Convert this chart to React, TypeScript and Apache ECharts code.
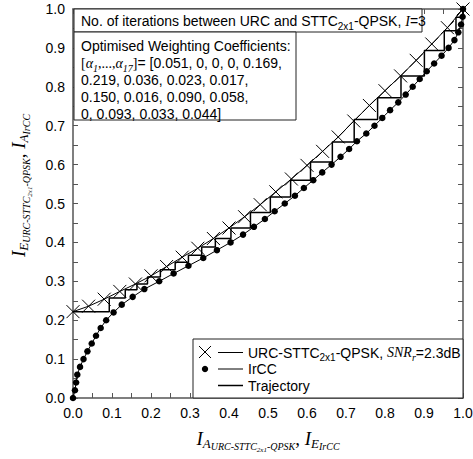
import React, { useEffect, useRef } from "react";
import * as echarts from "echarts";

// URC-STTC2x1-QPSK EXIT curve (x = I_A, y = I_E), SNR_r = 2.3 dB
const urcIA = [0.0, 0.04, 0.08, 0.12, 0.16, 0.2, 0.24, 0.28, 0.32, 0.36, 0.4, 0.44, 0.48, 0.52, 0.56, 0.6, 0.64, 0.68, 0.72, 0.76, 0.8, 0.84, 0.88, 0.92, 0.96, 1.0];
const urcIE = [0.222, 0.236, 0.254, 0.274, 0.293, 0.314, 0.338, 0.362, 0.385, 0.41, 0.437, 0.466, 0.497, 0.53, 0.563, 0.598, 0.634, 0.671, 0.712, 0.752, 0.79, 0.828, 0.868, 0.91, 0.952, 1.0];

// IrCC inverted EXIT curve (x = I_E, y = I_A)
const irccIA = [0.0, 0.02, 0.04, 0.06, 0.08, 0.1, 0.12, 0.14, 0.16, 0.18, 0.2, 0.22, 0.24, 0.26, 0.28, 0.3, 0.32, 0.34, 0.36, 0.38, 0.4, 0.42, 0.44, 0.46, 0.48, 0.5, 0.52, 0.54, 0.56, 0.58, 0.6, 0.62, 0.64, 0.66, 0.68, 0.7, 0.72, 0.74, 0.76, 0.78, 0.8, 0.82, 0.84, 0.86, 0.88, 0.9, 0.92, 0.94, 0.96, 0.98, 1.0];
const irccIE = [0.0, 0.005, 0.008, 0.011, 0.018, 0.027, 0.037, 0.048, 0.059, 0.071, 0.085, 0.104, 0.125, 0.153, 0.183, 0.221, 0.258, 0.296, 0.334, 0.369, 0.404, 0.436, 0.464, 0.492, 0.517, 0.543, 0.569, 0.592, 0.616, 0.639, 0.663, 0.686, 0.708, 0.728, 0.752, 0.773, 0.793, 0.813, 0.834, 0.853, 0.871, 0.889, 0.907, 0.926, 0.945, 0.963, 0.978, 0.988, 0.995, 0.999, 1.0];

// Decoding trajectory: x positions of the vertical steps and y levels of the horizontal steps
const trajVerticals = [0.093, 0.134, 0.164, 0.191, 0.224, 0.262, 0.296, 0.33, 0.365, 0.405, 0.455, 0.506, 0.558, 0.609, 0.665, 0.721, 0.781, 0.841, 0.901, 0.952, 0.982, 1.0];
const trajLevels = [0.222, 0.257, 0.278, 0.293, 0.311, 0.33, 0.349, 0.367, 0.388, 0.41, 0.437, 0.477, 0.517, 0.56, 0.607, 0.658, 0.716, 0.772, 0.828, 0.893, 0.944, 0.979, 1.0];

const alphaCoeffs = ["0.051", "0", "0", "0", "0.169", "0.219", "0.036", "0.023", "0.017", "0.150", "0.016", "0.090", "0.058", "0", "0.093", "0.033", "0.044"];

const SANS = "'Liberation Sans', Arial, sans-serif";
const SERIF = "'Liberation Serif', 'Times New Roman', serif";
const AXIS_COLOR = "#555";

const titleRich = {
  I: { fontFamily: SERIF, fontStyle: "italic", fontSize: 19, color: "#000", verticalAlign: "middle" },
  s1: { fontFamily: SERIF, fontStyle: "italic", fontSize: 13, color: "#000", padding: [9, 0, 0, 0], verticalAlign: "middle" },
  s2: { fontFamily: SERIF, fontStyle: "italic", fontSize: 10, color: "#000", padding: [16, 0, 0, 0], verticalAlign: "middle" },
  s3: { fontFamily: SERIF, fontStyle: "italic", fontSize: 7, color: "#000", padding: [22, 0, 0, 0], verticalAlign: "middle" },
  c: { fontFamily: SERIF, fontSize: 19, color: "#000", verticalAlign: "middle" },
};

const textRich = {
  n: { fontFamily: SANS, fontSize: 14, color: "#000", verticalAlign: "middle" },
  sub: { fontFamily: SANS, fontSize: 10, color: "#000", padding: [10, 0, 0, 0], verticalAlign: "middle" },
  it: { fontFamily: SERIF, fontStyle: "italic", fontSize: 14, color: "#000", verticalAlign: "middle" },
  isub: { fontFamily: SERIF, fontStyle: "italic", fontSize: 10, color: "#000", padding: [10, 0, 0, 0], verticalAlign: "middle" },
  t: { fontFamily: SERIF, fontSize: 14, color: "#000", verticalAlign: "middle" },
};

function axis(position: string, showLabel: boolean, extra: any = {}) {
  return {
    type: "value",
    position,
    min: 0,
    max: 1,
    interval: 0.1,
    axisLine: { show: true, onZero: false, lineStyle: { color: AXIS_COLOR, width: 1.5 } },
    axisTick: { show: true, inside: true, length: 5, lineStyle: { color: AXIS_COLOR, width: 1 } },
    minorTick: { show: true, splitNumber: 2, length: 5, lineStyle: { color: AXIS_COLOR, width: 1 } },
    splitLine: { show: false },
    axisLabel: {
      show: showLabel,
      formatter: (v: number) => v.toFixed(1),
      fontFamily: SANS,
      fontSize: 14,
      color: "#000",
      margin: 8,
    },
    ...extra,
  };
}

export default function App() {
  const ref = useRef<HTMLDivElement>(null);
  useEffect(() => {
    if (!ref.current) return;
    const chart = echarts.init(ref.current, undefined, { renderer: "svg" });

    const urcData = urcIA.map((x, i) => [x, urcIE[i]]);
    const irccData = irccIE.map((x, i) => [x, irccIA[i]]);
    const trajData: number[][] = [[0, trajLevels[0]]];
    trajVerticals.forEach((v, i) => {
      trajData.push([v, trajLevels[i]]);
      trajData.push([v, trajLevels[i + 1]]);
    });

    const line2 =
      "{t|[}{it|α}{isub|1}{t|,...,}{it|α}{isub|17}{t|]}{n|= [" + alphaCoeffs.slice(0, 5).join(", ") + ",}";
    const line3 = alphaCoeffs.slice(5, 9).join(", ") + ",";
    const line4 = alphaCoeffs.slice(9, 13).join(", ") + ",";
    const line5 = alphaCoeffs.slice(13).join(", ") + "]";

    const txt = (x: number, y: number, text: string, rich = false) => ({
      type: "text",
      x,
      y,
      z: 102,
      style: {
        text,
        fontFamily: SANS,
        fontSize: 14,
        fill: "#000",
        align: "left",
        verticalAlign: "middle",
        ...(rich ? { rich: textRich } : {}),
      },
    });

    const crossSym = "path://M0,0L10,10M10,0L0,10";

    const option: any = {
      animation: false,
      backgroundColor: "#fff",
      grid: { left: 73, right: 10, top: 9, bottom: 61, containLabel: false, outerBoundsMode: "none" },
      xAxis: [
        axis("bottom", true, {
          name: "{I|I}{s1|A}{s2|URC-STTC}{s3|2x1}{s2|-QPSK}{c|, }{I|I}{s1|E}{s2|IrCC}",
          nameLocation: "middle",
          nameGap: 26,
          nameTextStyle: { rich: titleRich },
        }),
        axis("top", false),
      ],
      yAxis: [
        axis("left", true, {
          name: "{I|I}{s1|E}{s2|URC-STTC}{s3|2x1}{s2|-QPSK}{c|, }{I|I}{s1|A}{s2|IrCC}",
          nameLocation: "middle",
          nameRotate: 90,
          nameGap: 40,
          nameTextStyle: { rich: titleRich, padding: [0, 0, 0, 36] },
        }),
        axis("right", false),
      ],
      series: [
        {
          name: "IrCC",
          type: "line",
          data: irccData,
          symbol: "circle",
          symbolSize: 6.5,
          lineStyle: { color: "#000", width: 1 },
          itemStyle: { color: "#000", borderWidth: 0 },
          z: 2,
        },
        {
          name: "URC",
          type: "line",
          data: urcData,
          symbol: crossSym,
          symbolSize: 13,
          lineStyle: { color: "#000", width: 1 },
          itemStyle: { color: "#000", borderColor: "#000", borderWidth: 1 },
          z: 3,
        },
        {
          name: "Trajectory",
          type: "line",
          data: trajData,
          symbol: "none",
          lineStyle: { color: "#000", width: 1.5 },
          z: 4,
        },
      ],
      graphic: [
        { type: "rect", z: 100, shape: { x: 74, y: 9, width: 348, height: 23 }, style: { fill: "#fff", stroke: "#222", lineWidth: 1 } },
        txt(81, 21, "{n|No. of iterations between URC and STTC}{sub|2x1}{n|-QPSK, }{it|I}{n|=3}", true),
        { type: "rect", z: 100, shape: { x: 74, y: 32, width: 222, height: 88 }, style: { fill: "#fff", stroke: "#222", lineWidth: 1 } },
        txt(81, 46, "Optimised Weighting Coefficients:"),
        txt(81, 63, line2, true),
        txt(81, 80, line3),
        txt(81, 97, line4),
        txt(81, 113.5, line5),
        { type: "rect", z: 100, shape: { x: 193, y: 339, width: 270, height: 59 }, style: { fill: "#fff", stroke: "#222", lineWidth: 1 } },
        { type: "line", z: 102, shape: { x1: 199, y1: 346, x2: 211, y2: 358 }, style: { stroke: "#000", lineWidth: 1 } },
        { type: "line", z: 102, shape: { x1: 211, y1: 346, x2: 199, y2: 358 }, style: { stroke: "#000", lineWidth: 1 } },
        { type: "line", z: 102, shape: { x1: 218, y1: 352.5, x2: 243, y2: 352.5 }, style: { stroke: "#000", lineWidth: 1 } },
        txt(248, 352.5, "{n|URC-STTC}{sub|2x1}{n|-QPSK, }{it|SNR}{isub|r}{n|=2.3dB}", true),
        { type: "circle", z: 102, shape: { cx: 205, cy: 369, r: 3.2 }, style: { fill: "#000" } },
        { type: "line", z: 102, shape: { x1: 218, y1: 369, x2: 243, y2: 369 }, style: { stroke: "#000", lineWidth: 1 } },
        txt(248, 369, "IrCC"),
        { type: "line", z: 102, shape: { x1: 218, y1: 385.5, x2: 243, y2: 385.5 }, style: { stroke: "#000", lineWidth: 1.5 } },
        txt(248, 385.5, "Trajectory"),
      ],
    };

    chart.setOption(option);
    return () => chart.dispose();
  }, []);

  return (
    <div
      ref={ref}
      style={{ position: "fixed", left: 0, top: 0, width: 473, height: 459, background: "#fff" }}
    />
  );
}
